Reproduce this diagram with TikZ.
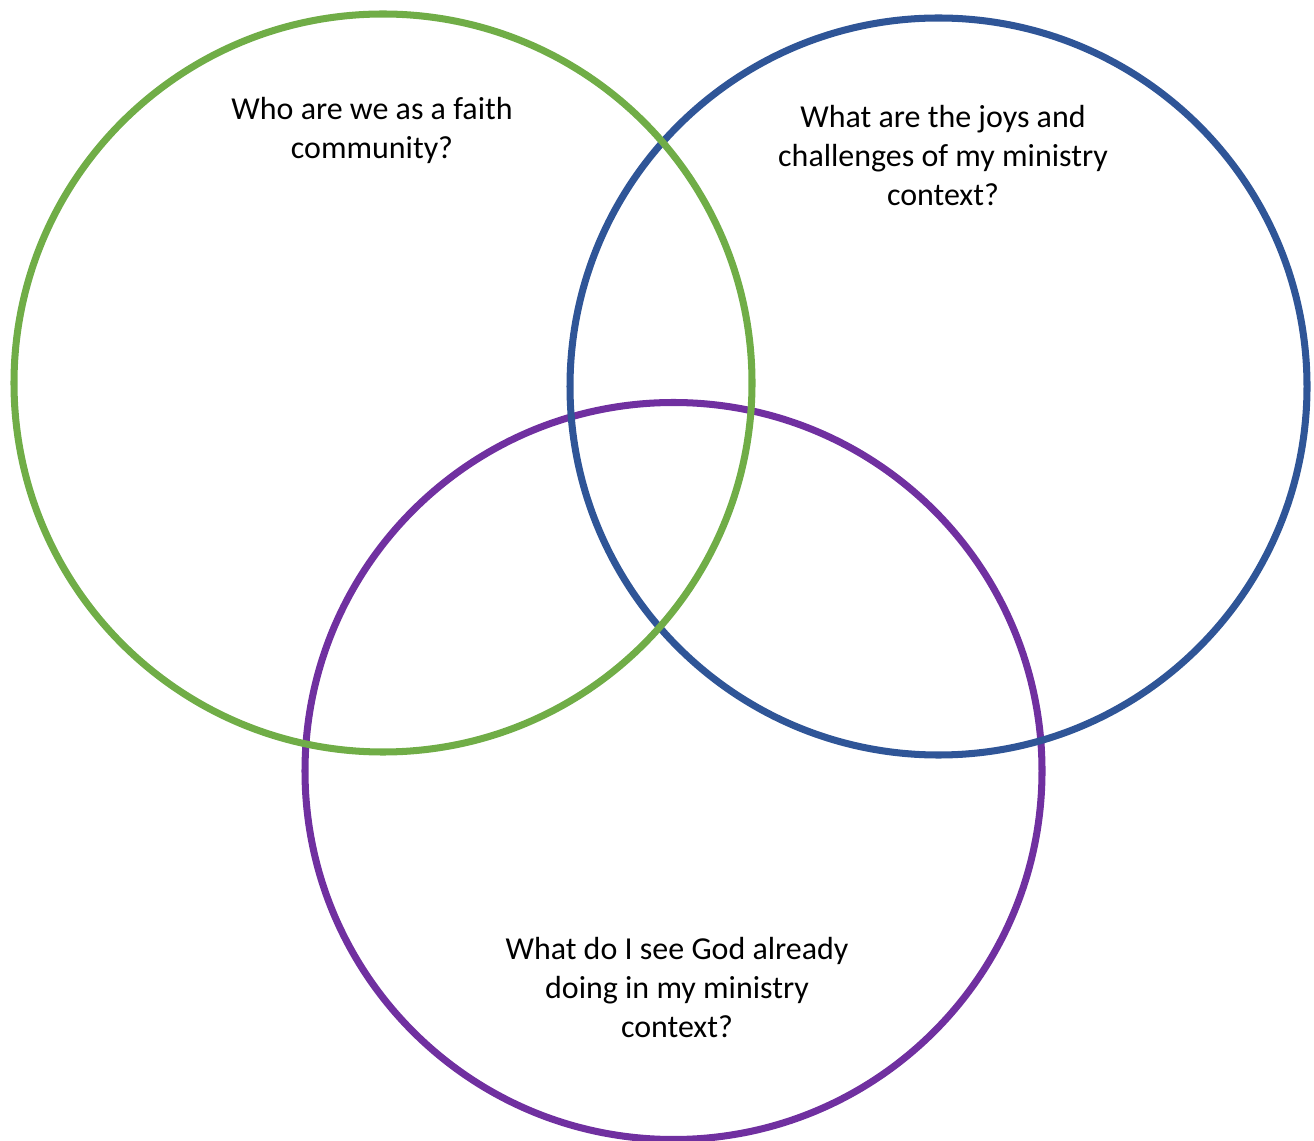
\documentclass[tikz,border=0pt]{standalone}
\usepackage{fontspec}
\setmainfont{Carlito}
\usepackage{xcolor}
\definecolor{vgreen}{HTML}{70AD47}
\definecolor{vblue}{HTML}{2F5597}
\definecolor{vpurple}{HTML}{7030A0}
\tikzset{
  ring/.style={line width=4pt},
  question/.style={align=center, text=black, inner sep=0pt,
    font=\fontsize{18.2}{22.2}\selectfont}
}

\begin{document}
\begin{tikzpicture}[x=0.02cm, y=0.02cm]
  \useasboundingbox (0,0) rectangle (1314,-1141);

  % purple lies underneath, green on top
  \draw[ring, draw=vpurple] (673.5,-771) circle [radius=368.5];
  \draw[ring, draw=vblue] (938.5,-386.5) circle [radius=368.5];
  \draw[ring, draw=vgreen] (383,-383) circle [radius=369];

  \node[question] (faith) at (372,-130) {Who are we as a faith\\community?};
  \node[question] (context) at (943,-156) {What are the joys and\\challenges of my ministry\\context?};
  \node[question] (god) at (677,-988) {What do I see God already\\doing in my ministry\\context?};
\end{tikzpicture}
\end{document}
